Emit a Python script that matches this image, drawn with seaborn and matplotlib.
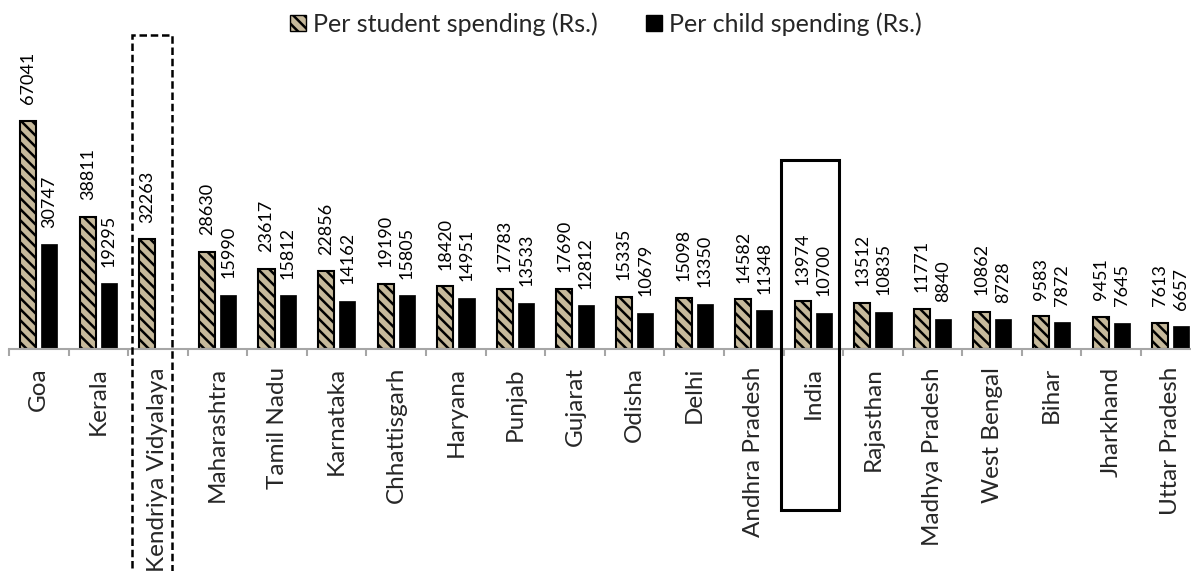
import numpy as np
import pandas as pd
import matplotlib
matplotlib.use("Agg")
import matplotlib.pyplot as plt
import matplotlib.transforms as mtransforms
from matplotlib.patches import Rectangle
import seaborn as sns

# Spending per student and per child, by state
regions = ["Goa", "Kerala", "Kendriya Vidyalaya", "Maharashtra", "Tamil Nadu",
           "Karnataka", "Chhattisgarh", "Haryana", "Punjab", "Gujarat", "Odisha",
           "Delhi", "Andhra Pradesh", "India", "Rajasthan", "Madhya Pradesh",
           "West Bengal", "Bihar", "Jharkhand", "Uttar Pradesh"]
per_student = [67041, 38811, 32263, 28630, 23617, 22856, 19190, 18420, 17783,
               17690, 15335, 15098, 14582, 13974, 13512, 11771, 10862, 9583,
               9451, 7613]
per_child = [30747, 19295, np.nan, 15990, 15812, 14162, 15805, 14951, 13533,
             12812, 10679, 13350, 11348, 10700, 10835, 8840, 8728, 7872,
             7645, 6657]
series_names = ["Per student spending (Rs.)", "Per child spending (Rs.)"]

df = pd.DataFrame({
    "region": regions * 2,
    "series": [series_names[0]] * len(regions) + [series_names[1]] * len(regions),
    "value": per_student + per_child,
})

sns.set_theme(style="white")
plt.rcParams["font.family"] = ["Lato", "DejaVu Sans"]
plt.rcParams["hatch.linewidth"] = 1.8

TAN = "#c6b99b"
HATCH = "\\\\\\"

fig = plt.figure(figsize=(11.91, 5.71), dpi=100)
# plot area: baseline 349 px from top, category pitch ~59.6 px
ax = fig.add_axes([9 / 1191, (571 - 349) / 571, 1191.6 / 1191, 314 / 571])

sns.barplot(data=df, x="region", y="value", hue="series", order=regions,
            hue_order=series_names, palette=[TAN, "black"], width=0.712,
            gap=0.24, ax=ax, legend=False, errorbar=None, saturation=1)

student_bars, child_bars = ax.containers[0], ax.containers[1]
for p in student_bars:
    p.set_hatch(HATCH)
    p.set_edgecolor("black")
    p.set_linewidth(1.5)
for p in child_bars:
    p.set_edgecolor("black")
    p.set_linewidth(0.5)

for c in (student_bars, child_bars):
    ax.bar_label(c, fmt="{:.0f}", rotation=90, padding=12, fontsize=13,
                 color="black")

ax.set_xlim(-0.5, len(regions) - 0.5)
ax.set_ylim(0, 92330)
ax.set_xlabel("")
ax.set_ylabel("")
ax.set_yticks([])
for s in ("left", "top", "right"):
    ax.spines[s].set_visible(False)
ax.spines["bottom"].set_color("#a6a6a6")
ax.spines["bottom"].set_linewidth(1.5)

ax.set_xticks(range(len(regions)))
ax.set_xticklabels(regions, rotation=90, fontsize=17.5, va="top", ha="center")
ax.tick_params(axis="x", which="major", length=0, pad=13)
ax.set_xticks(np.arange(len(regions)) - 0.5, minor=True)
ax.tick_params(axis="x", which="minor", length=5, width=1.5, color="#a6a6a6",
               bottom=True)

# highlight boxes: Kendriya Vidyalaya (dashed) and India (solid)
trans = mtransforms.blended_transform_factory(ax.transData, fig.transFigure)
kv = regions.index("Kendriya Vidyalaya")
fig.add_artist(Rectangle((kv - 0.44, -0.05), 0.68, 1 - 35 / 571 + 0.05,
                         transform=trans, fill=False, edgecolor="black",
                         linewidth=1.8, linestyle=(0, (3, 1.5)), clip_on=False))
ind = regions.index("India")
fig.add_artist(Rectangle((ind - 0.55, 1 - 510 / 571), 0.98, 350 / 571,
                         transform=trans, fill=False, edgecolor="black",
                         linewidth=2.2, clip_on=False))

# legend
handles = [Rectangle((0, 0), 1, 1, facecolor=TAN, edgecolor="black",
                     hatch=HATCH, linewidth=1.0),
           Rectangle((0, 0), 1, 1, facecolor="black", edgecolor="black")]
fig.legend(handles, series_names, loc="center", bbox_to_anchor=(606 / 1191, 1 - 24 / 571),
           ncol=2, frameon=False, fontsize=18, handlelength=0.64, handleheight=0.64,
           handletextpad=0.28, columnspacing=1.95)

fig.savefig("out.png", dpi=100)
